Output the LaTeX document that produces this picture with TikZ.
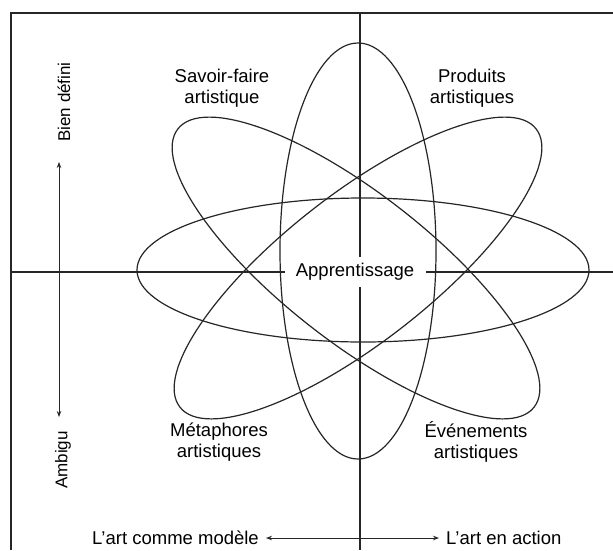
\documentclass[tikz,border=0pt]{standalone}
\usepackage{fontspec}
\setmainfont{Liberation Sans}
\usetikzlibrary{shapes.geometric,arrows.meta}
\tikzset{
  orbit/.style={draw, ellipse, line width=1.2pt, inner sep=0pt, color=black!85},
  axis/.style={line width=1.2pt, color=black!85},
  dimarrow/.style={line width=0.9pt, color=black!85, {Stealth[length=6pt,width=4.5pt]}-{Stealth[length=6pt,width=4.5pt]}},
  lbl/.style={font=\fontsize{18.5pt}{21pt}\selectfont, align=center, text=black, inner sep=0pt},
  vlbl/.style={font=\fontsize{17pt}{20pt}\selectfont, rotate=90, text=black, inner sep=0pt}
}
\begin{document}
\begin{tikzpicture}[x=1pt,y=-1pt]
\useasboundingbox[fill=white] (0,0) rectangle (613,550);
% frame and axes
\coordinate (tl) at (11,13);
\coordinate (tr) at (613,13);
\coordinate (bl) at (11,550);
\coordinate (vt) at (360,13);
\coordinate (vb) at (360,550);
\coordinate (hl) at (11,272);
\coordinate (hr) at (613,272);
\draw[axis] (tr) -- (tl) -- (bl);
\draw[axis] (vt) -- (vb);
\draw[axis] (hl) -- (hr);
% ellipses
\node[orbit, minimum width=452pt, minimum height=144pt] (eh) at (363,270) {};
\node[orbit, minimum width=156pt, minimum height=416pt] (ev) at (358,251) {};
\node[orbit, minimum width=452pt, minimum height=148pt, rotate=-38] (e1) at (356,268) {};
\node[orbit, minimum width=452pt, minimum height=148pt, rotate=38] (e2) at (358,268) {};
% centre label
\node[lbl, fill=white, minimum width=141pt, minimum height=30pt] (app) at (355,272) {Apprentissage};
% labels
\node[lbl] (sf) at (222,88) {Savoir-faire\\artistique};
\node[lbl] (pa) at (472,88) {Produits\\artistiques};
\node[lbl] (ma) at (219,442) {Métaphores\\artistiques};
\node[lbl] (ev2) at (476,442) {Événements\\artistiques};
% side arrows
\node[vlbl] (bd) at (64,102) {Bien défini};
\node[vlbl] (amb) at (63,460) {Ambigu};
\coordinate (at) at (59,162);
\coordinate (ab) at (59,417);
\draw[dimarrow] (at) -- (ab);
\node[lbl, anchor=east] (acm) at (259,538) {L'art comme modèle};
\node[lbl, anchor=west] (aea) at (446,538) {L'art en action};
\coordinate (al) at (266,538);
\coordinate (ar) at (439,538);
\draw[dimarrow] (al) -- (ar);
\end{tikzpicture}
\end{document}
